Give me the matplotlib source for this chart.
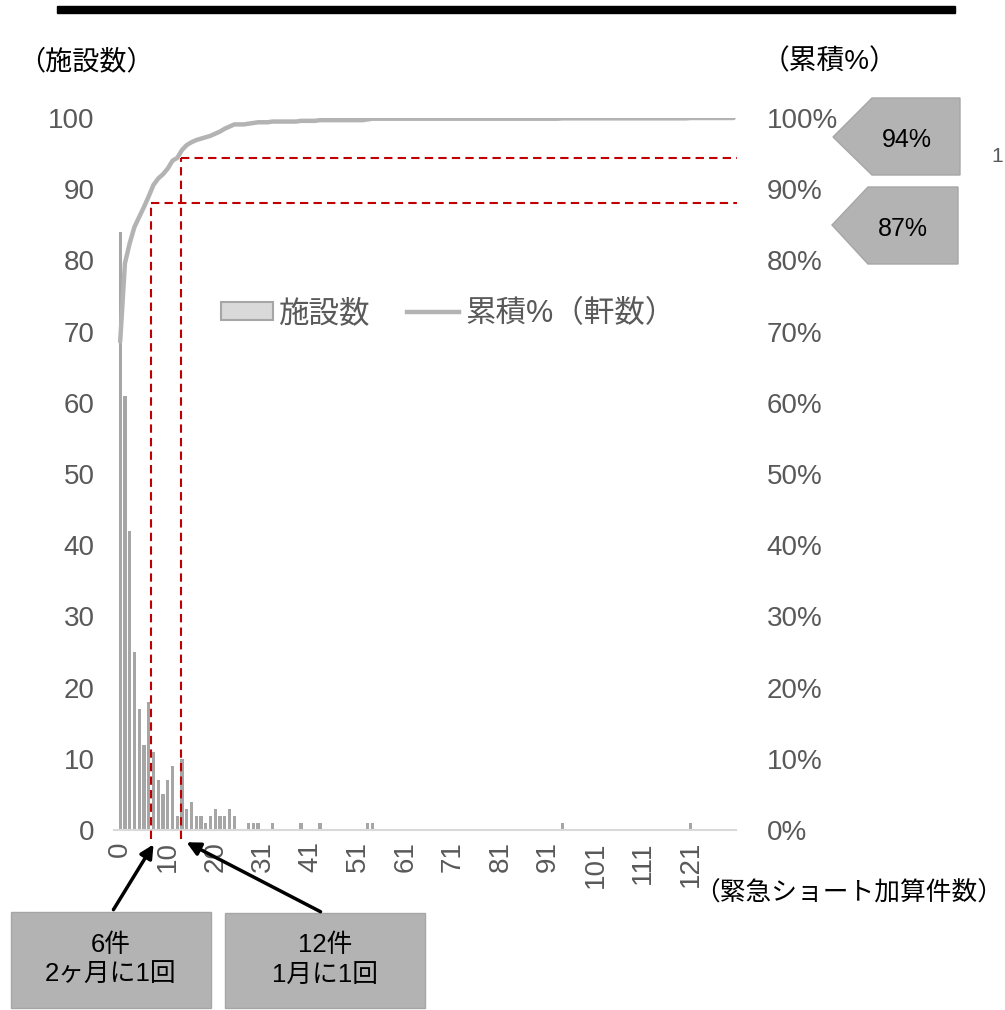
import matplotlib
matplotlib.use('Agg')
import matplotlib.pyplot as plt
from matplotlib.patches import Patch, Polygon, Rectangle, FancyArrowPatch
from matplotlib.lines import Line2D
from matplotlib.ticker import FuncFormatter

plt.rcParams['font.family'] = ['Liberation Sans', 'Noto Sans CJK JP']

# categories: number of emergency short additions (21 is not present)
cats = list(range(0, 21)) + list(range(22, 131))

# number of facilities per category
facilities = [
    84, 61, 42, 25, 17, 12, 18, 11, 7, 5,
    7, 9, 2, 10, 3, 4, 2, 2, 1, 2,
    3, 2, 2, 3, 2, 0, 0, 1, 1, 1,
    0, 0, 1, 0, 0, 0, 0, 0, 1, 0,
    0, 0, 1, 0, 0, 0, 0, 0, 0, 0,
    0, 0, 1, 1, 0, 0, 0, 0, 0, 0,
    0, 0, 0, 0, 0, 0, 0, 0, 0, 0,
    0, 0, 0, 0, 0, 0, 0, 0, 0, 0,
    0, 0, 0, 0, 0, 0, 0, 0, 0, 0,
    0, 0, 0, 1, 0, 0, 0, 0, 0, 0,
    0, 0, 0, 0, 0, 0, 0, 0, 0, 0,
    0, 0, 0, 0, 0, 0, 0, 0, 0, 0,
    1, 0, 0, 0, 0, 0, 0, 0, 0, 0,
]

# cumulative % (by count)
cum_pct = [
    68.6, 79.6, 82.4, 84.7, 86.1, 87.5, 89.0, 90.6, 91.5, 92.1,
    92.9, 94.0, 94.4, 95.5, 96.2, 96.6, 96.9, 97.1, 97.3, 97.5,
    97.8, 98.1, 98.5, 98.8, 99.1, 99.1, 99.1, 99.2, 99.3, 99.4,
    99.4, 99.4, 99.5, 99.5, 99.5, 99.5, 99.5, 99.5, 99.6, 99.6,
    99.6, 99.6, 99.7, 99.7, 99.7, 99.7, 99.7, 99.7, 99.7, 99.7,
    99.7, 99.7, 99.8, 99.9, 99.9, 99.9, 99.9, 99.9, 99.9, 99.9,
    99.9, 99.9, 99.9, 99.9, 99.9, 99.9, 99.9, 99.9, 99.9, 99.9,
    99.9, 99.9, 99.9, 99.9, 99.9, 99.9, 99.9, 99.9, 99.9, 99.9,
    99.9, 99.9, 99.9, 99.9, 99.9, 99.9, 99.9, 99.9, 99.9, 99.9,
    99.9, 99.9, 99.9, 99.95, 99.95, 99.95, 99.95, 99.95, 99.95, 99.95,
    99.95, 99.95, 99.95, 99.95, 99.95, 99.95, 99.95, 99.95, 99.95, 99.95,
    99.95, 99.95, 99.95, 99.95, 99.95, 99.95, 99.95, 99.95, 99.95, 99.95,
    100, 100, 100, 100, 100, 100, 100, 100, 100, 100,
]

# threshold guides (category position, cumulative %, label)
guide_x = [6.4, 12.85]
guide_y = [88.0, 94.4]
guide_labels = ['87%', '94%']
box_texts = ['6件\n2ヶ月に1回', '12件\n1月に1回']

W, H = 1005, 1010


def fx(px):
    return px / W


def fy(py):
    return 1 - py / H


fig = plt.figure(figsize=(W / 100, H / 100), dpi=100)
ax = fig.add_axes([fx(114), fy(830), (736 - 114) / W, 712 / H])
ax2 = ax.twinx()

x = list(range(len(cats)))
ax.bar(x, facilities, width=0.7, color='#a6a6a6', zorder=2)
ax2.plot(x, cum_pct, color='#b3b3b3', lw=3.2, zorder=3, solid_capstyle='round')

ax.set_xlim(-1.3, len(cats) - 0.5)
ax.set_ylim(0, 100)
ax2.set_ylim(0, 100)
ax.set_yticks(range(0, 101, 10))
ax2.set_yticks(range(0, 101, 10))
ax2.yaxis.set_major_formatter(FuncFormatter(lambda v, p: '%d%%' % v))

tick_idx = list(range(0, len(cats), 10))
ax.set_xticks(tick_idx)
ax.set_xticklabels([str(cats[i]) for i in tick_idx], rotation=90)

gray = '#595959'
ax.tick_params(axis='x', length=0, pad=8, labelsize=20, colors=gray)
ax.tick_params(axis='y', length=0, pad=14, labelsize=20, colors=gray)
ax2.tick_params(axis='y', length=0, pad=22, labelsize=20, colors=gray)

for a in (ax, ax2):
    for s in a.spines.values():
        s.set_visible(False)
ax.spines['bottom'].set_visible(True)
ax.spines['bottom'].set_color('#d9d9d9')
ax.spines['bottom'].set_linewidth(1.5)

# red dashed guides
red = '#c00000'
for gx, gy in zip(guide_x, guide_y):
    ax2.plot([gx, gx], [-1.2, gy], color=red, lw=1.5, ls=(0, (4, 2.5)), clip_on=False, zorder=4)
    ax2.plot([gx, len(cats) - 0.3], [gy, gy], color=red, lw=1.5, ls=(0, (4, 2.5)), clip_on=False, zorder=4)

# legend
handles = [Patch(facecolor='#d9d9d9', edgecolor='#a6a6a6', lw=1.5),
           Line2D([], [], color='#b3b3b3', lw=3.2)]
fig.legend(handles, ['施設数', '累積%（軒数）'], loc='center',
           bbox_to_anchor=(fx(448), fy(314)), ncol=2, frameon=False,
           fontsize=22, handlelength=1.7, handleheight=0.55,
           handletextpad=0.2, columnspacing=1.2, labelcolor=gray)

# titles
fig.add_artist(Rectangle((fx(57), fy(13)), 898 / W, 7 / H, transform=fig.transFigure, color='black'))
fig.text(fx(18), fy(62), '（施設数）', fontsize=19.5, va='center', ha='left')
fig.text(fx(762), fy(62), '（累積%）', fontsize=20, va='center', ha='left')
fig.text(fx(1003), fy(893), '（緊急ショート加算件数）', fontsize=18.5, va='center', ha='right')
fig.text(fx(997), fy(156), '1', fontsize=15, va='center', ha='center', color=gray)

# pentagon callouts on the right
pent_fill = '#b3b3b3'
pents = [
    [(833, 137), (872, 98), (960, 98), (960, 175), (872, 175)],
    [(832, 225), (868, 187), (958, 187), (958, 264), (868, 264)],
]
pent_text_pos = [(907, 140), (903, 229)]
for pts, (tx, ty), lab in zip(pents, pent_text_pos, guide_labels[::-1]):
    fig.add_artist(Polygon([(fx(a), fy(b)) for a, b in pts], closed=True,
                           transform=fig.transFigure, facecolor=pent_fill,
                           edgecolor='#a6a6a6', lw=1))
    fig.text(fx(tx), fy(ty), lab, fontsize=18, ha='center', va='center', color='black')

# boxes with arrows
boxes = [(11, 912, 200, 96), (225, 913, 200, 95)]
arrows = [((112, 912), (155, 842)), ((323, 913), (184, 841))]
for (bx, by, bw, bh), txt, (p0, p1) in zip(boxes, box_texts, arrows):
    fig.add_artist(Rectangle((fx(bx), fy(by + bh)), bw / W, bh / H,
                             transform=fig.transFigure, facecolor='#b3b3b3',
                             edgecolor='#a6a6a6', lw=1))
    fig.text(fx(bx + bw / 2), fy(by + bh / 2), txt, fontsize=18.5, ha='center',
             va='center', linespacing=1.35, color='black')
    fig.add_artist(FancyArrowPatch((fx(p0[0]), fy(p0[1])), (fx(p1[0]), fy(p1[1])),
                                   transform=fig.transFigure, arrowstyle='-|>',
                                   mutation_scale=20, lw=2.5, color='black'))

fig.savefig('out.png', dpi=100)
